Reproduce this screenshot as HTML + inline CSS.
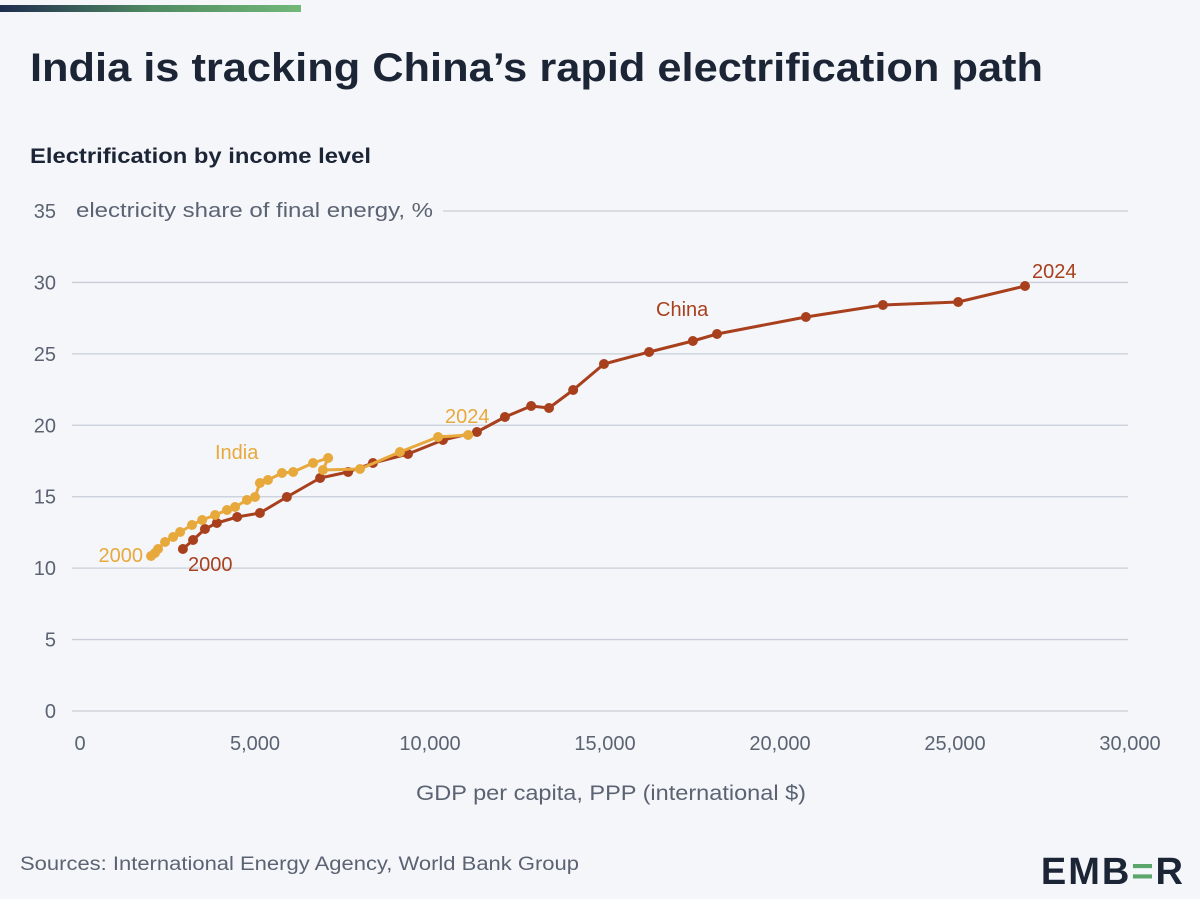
<!DOCTYPE html>
<html><head><meta charset="utf-8"><style>
html,body{margin:0;padding:0;background:#f4f6fa;}
svg{display:block;font-family:"Liberation Sans",sans-serif;}
</style></head><body>
<svg width="1200" height="899" viewBox="0 0 1200 899">
<defs><linearGradient id="g" x1="0" x2="1"><stop offset="0" stop-color="#1f2d4f"/><stop offset="0.5" stop-color="#4f8a62"/><stop offset="1" stop-color="#72b878"/></linearGradient></defs>
<rect x="0" y="0" width="1200" height="899" fill="#f4f6fa"/>
<rect x="0" y="5" width="301" height="7" fill="url(#g)"/>
<text x="30" y="81" font-size="40" font-weight="bold" fill="#1c2536" textLength="1013" lengthAdjust="spacingAndGlyphs">India is tracking China’s rapid electrification path</text>
<text x="30" y="163" font-size="21" font-weight="bold" fill="#1c2536" textLength="341" lengthAdjust="spacingAndGlyphs">Electrification by income level</text>
<g id="grid"></g>
<g id="yticks"></g>
<g id="xticks"></g>
<text x="76" y="217" font-size="20" fill="#5b6372" textLength="357" lengthAdjust="spacingAndGlyphs">electricity share of final energy, %</text>
<text x="416" y="800" font-size="21" fill="#5b6372" textLength="390" lengthAdjust="spacingAndGlyphs">GDP per capita, PPP (international $)</text>
<g id="series"></g>
<text x="20" y="870" font-size="19" fill="#5b6372" textLength="559" lengthAdjust="spacingAndGlyphs">Sources: International Energy Agency, World Bank Group</text>
<text x="1185" y="884" font-size="38" font-weight="bold" fill="#1c2536" text-anchor="end" letter-spacing="2">EMB<tspan fill="#5aa66a">=</tspan>R</text>
</svg>
<script>
const yTicks=[0,5,10,15,20,25,30,35];
const xTicks=[0,5000,10000,15000,20000,25000,30000];
const xTickLabels=["0","5,000","10,000","15,000","20,000","25,000","30,000"];
const indiaX=[2030,2140,2230,2430,2660,2860,3200,3490,3860,4200,4430,4770,5000,5140,5370,5770,6090,6660,7090,6940,8000,9140,10230,11090];
const indiaY=[10.85,11.06,11.34,11.83,12.18,12.53,13.02,13.37,13.72,14.07,14.28,14.77,14.98,15.96,16.17,16.66,16.73,17.36,17.71,16.87,16.94,18.13,19.18,19.32];
const chinaX=[2940,3230,3570,3910,4490,5140,5910,6860,7660,8370,9370,10370,11340,12140,12890,13400,14090,14970,16260,17510,18200,20740,22940,25090,27000];
const chinaY=[11.34,11.97,12.74,13.16,13.58,13.86,14.98,16.31,16.73,17.36,17.99,18.97,19.53,20.58,21.35,21.21,22.47,24.29,25.13,25.90,26.39,27.58,28.42,28.63,29.75];
const NS="http://www.w3.org/2000/svg";
const xs=v=>80+v*0.035, ys=v=>711-v*500/35;
function mk(t,a,p){const e=document.createElementNS(NS,t);for(const k in a)e.setAttribute(k,a[k]);p.appendChild(e);return e;}
const grid=document.getElementById('grid'),yg=document.getElementById('yticks'),xg=document.getElementById('xticks'),sg=document.getElementById('series');
yTicks.forEach(v=>{
 const l=mk('line',{x1:v===35?443:72,x2:1128,y1:ys(v),y2:ys(v),stroke:'#c9cdd8','stroke-width':1.3},grid);
 
 
 const t=mk('text',{x:56,y:ys(v)+7,'font-size':20,fill:'#5b6372','text-anchor':'end'},yg);t.textContent=v;
 
 
});
xTicks.forEach((v,i)=>{
 const t=mk('text',{x:xs(v),y:750,'font-size':20,fill:'#5b6372','text-anchor':'middle'},xg);t.textContent=xTickLabels[i];
 
 
});
function series(X,Y,c,name){
 const g=mk('g',{},sg);
 
 
 const p=mk('polyline',{points:X.map((x,i)=>xs(x)+','+ys(Y[i])).join(' '),fill:'none',stroke:c,'stroke-width':3,'stroke-linejoin':'round'},g);
 
 
 X.forEach((x,i)=>{const d=mk('circle',{cx:xs(x),cy:ys(Y[i]),r:5,fill:c},g);
  
  });
}
series(chinaX,chinaY,'#a8401e','china');
series(indiaX,indiaY,'#e8a93c','india');
function lab(x,y,s,c,n,a){const t=mk('text',{x:x,y:y,'font-size':20,fill:c,'text-anchor':a||'start'},sg);t.textContent=s;
 
 }
lab(215,459,'India','#e8a93c','india-label');
lab(656,316,'China','#a8401e','china-label');
lab(143,562,'2000','#e8a93c','india-start-label','end');
lab(188,571,'2000','#a8401e','china-start-label');
lab(445,423,'2024','#e8a93c','india-end-label');
lab(1032,278,'2024','#a8401e','china-end-label');
</script>
</body></html>
